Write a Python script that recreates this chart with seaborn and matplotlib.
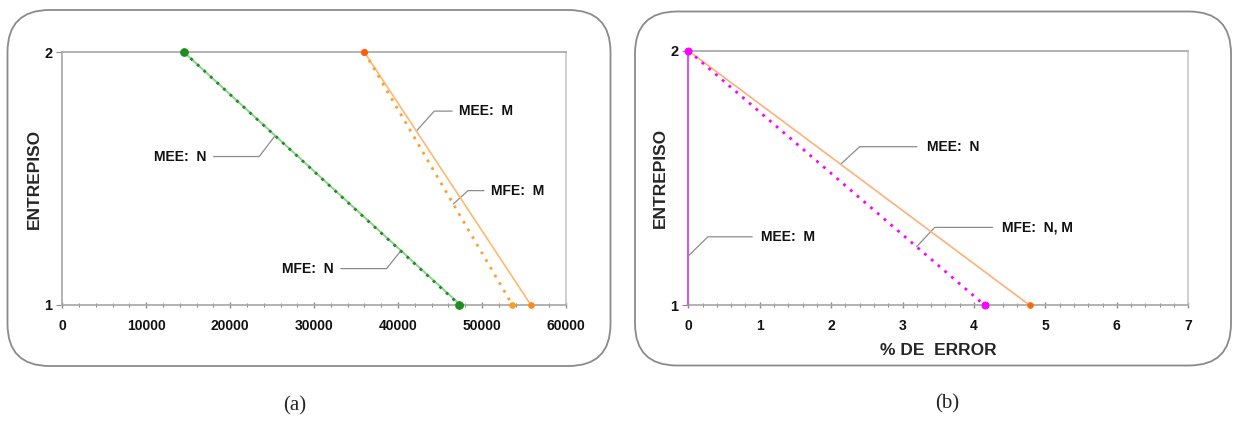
import numpy as np
import pandas as pd
import seaborn as sns
import matplotlib
matplotlib.use("Agg")
import matplotlib.pyplot as plt
from matplotlib.patches import FancyBboxPatch
from matplotlib.ticker import MultipleLocator

# Storey levels (y) shared by every series
entrepiso = [2, 1]

# (a) storey values, N and M, for MEE (solid) and MFE (dotted)
mee_n = [14500, 47400]
mfe_n = [14500, 47300]
mee_m = [36000, 55800]
mfe_m = [36000, 53600]

# (b) percentage of error
err_mee_n = [0.0, 4.78]
err_mee_m = [0.0, 0.0]
err_mfe_nm = [0.0, 4.15]

xticks_a = [0, 10000, 20000, 30000, 40000, 50000, 60000]
xticks_b = [0, 1, 2, 3, 4, 5, 6, 7]
yticks = [1, 2]

sns.set_style("white")
plt.rcParams["font.family"] = ["Liberation Sans", "DejaVu Sans"]
plt.rcParams["font.weight"] = "bold"

fig = plt.figure(figsize=(12.36, 4.21), dpi=100)

# rounded frames around each panel (inches)
for x0, y0, w, h in [(0.075, 0.55, 6.03, 3.56), (6.35, 0.555, 5.96, 3.54)]:
    fig.patches.append(FancyBboxPatch((x0, y0), w, h,
                                      boxstyle="round,pad=0,rounding_size=0.42",
                                      transform=fig.dpi_scale_trans,
                                      facecolor="none", edgecolor="#8a8a8a",
                                      linewidth=1.3))

ax_a = fig.add_axes([0.0504, 0.2762, 0.4075, 0.5996])
ax_b = fig.add_axes([0.5569, 0.2748, 0.4045, 0.6048])


def series(ax, xs, color, ls, lw, mcolor, ms, zorder):
    df = pd.DataFrame({"x": xs, "y": entrepiso})
    n0 = len(ax.lines)
    sns.lineplot(data=df, x="x", y="y", ax=ax, estimator=None, sort=False,
                 color=color, linestyle=ls, linewidth=lw, marker="o",
                 markersize=ms, markerfacecolor=mcolor, markeredgecolor=mcolor,
                 zorder=zorder)
    for ln in ax.lines[n0:]:
        ln.set_clip_on(False)


def leader(ax, text, tx, ty, x_start, x_bend, xs, y_tip, ha="center"):
    # tip sits on the series line at level y_tip
    x_tip = np.interp(y_tip, entrepiso[::-1], xs[::-1])
    ax.plot([x_start, x_bend, x_tip], [ty, ty, y_tip], color="#8c8c8c",
            linewidth=0.9, zorder=2, clip_on=False)
    ax.text(tx, ty, text, ha=ha, va="center", fontsize=10,
            fontweight="bold", color="#111111")


def style_axes(ax, xmax, minor, xticks):
    ax.set_xlim(0, xmax)
    ax.set_ylim(1, 2)
    ax.set_xticks(xticks)
    ax.xaxis.set_minor_locator(MultipleLocator(minor))
    ax.set_yticks(yticks)
    ax.set_yticklabels([str(v) for v in yticks])
    for s in ["left", "bottom", "top", "right"]:
        ax.spines[s].set_visible(True)
        ax.spines[s].set_color("#a6a6a6")
        ax.spines[s].set_linewidth(1.2)
    ax.spines["right"].set_color("#c8c8c8")
    ax.tick_params(axis="x", which="both", bottom=True, direction="inout",
                   colors="#8a8a8a", labelcolor="#111111", labelsize=10, pad=8)
    ax.tick_params(axis="x", which="major", length=4, width=1)
    ax.tick_params(axis="x", which="minor", length=3, width=0.8)
    ax.tick_params(axis="y", left=True, direction="out", length=4,
                   colors="#8a8a8a", labelcolor="#111111", labelsize=10.5, pad=3)
    for lab in ax.get_xticklabels() + ax.get_yticklabels():
        lab.set_fontweight("bold")
    ax.set_ylabel("ENTREPISO", fontsize=12.5, fontweight="bold", labelpad=2)
    ax.grid(False)


# ---- (a) ----
series(ax_a, mee_n, "#8fd08f", "-", 1.4, "#1b8a1b", 4, 3)
series(ax_a, mfe_n, "#1e8c1e", (0, (1, 2.2)), 2.0, "#1e8c1e", 5.5, 4)
series(ax_a, mee_m, "#ffb870", "-", 1.2, "#ff8a1a", 4, 3)
series(ax_a, mfe_m, "#ff9f2e", (0, (1, 2.2)), 2.0, "#ff9a20", 4, 4)
# start marker of the M series in orange-red
ax_a.plot([mee_m[0]], [entrepiso[0]], "o", color="#ff5a10", markersize=4,
          zorder=5, clip_on=False)
style_axes(ax_a, 60000, 2000, xticks_a)
ax_a.set_xticklabels([str(v) for v in xticks_a], fontweight="bold")
ax_a.set_xlabel("")

leader(ax_a, "MEE:  N", 13990, 1.587, 18020, 23460, mee_n, 1.670)
leader(ax_a, "MFE:  N", 29290, 1.143, 33180, 38630, mfe_n, 1.213)
leader(ax_a, "MEE:  M", 50480, 1.767, 46430, 44310, mee_m, 1.688)
leader(ax_a, "MFE:  M", 54290, 1.452, 50230, 48330, mfe_m, 1.399)

# ---- (b) ----
series(ax_b, err_mee_m, "#c866d0", "-", 1.6, "#ff00ff", 0, 3)
series(ax_b, err_mee_n, "#ffb07a", "-", 1.2, "#ff6a10", 4, 3)
series(ax_b, err_mfe_nm, "#ff00ff", (0, (1, 2.2)), 2.0, "#ff00ff", 5, 4)
style_axes(ax_b, 7, 0.2, xticks_b)
ax_b.set_xticklabels([str(v) for v in xticks_b], fontweight="bold")
ax_b.set_xlabel("% DE  ERROR", fontsize=12.5, fontweight="bold", labelpad=7)

leader(ax_b, "MEE:  N", 3.714, 1.623, 3.20, 2.40, err_mee_n, 1.554)
leader(ax_b, "MFE:  N, M", 4.89, 1.306, 4.26, 3.45, err_mfe_nm, 1.230)
leader(ax_b, "MEE:  M", 1.389, 1.269, 0.895, 0.274, err_mee_m, 1.194)

# panel captions
fig.text(295 / 1236, 1 - 406 / 421, "(a)", ha="center", va="center",
         fontsize=15, fontweight="normal", family="Liberation Serif")
fig.text(947 / 1236, 1 - 404 / 421, "(b)", ha="center", va="center",
         fontsize=15, fontweight="normal", family="Liberation Serif")

fig.savefig("out.png", dpi=100, facecolor="white")
